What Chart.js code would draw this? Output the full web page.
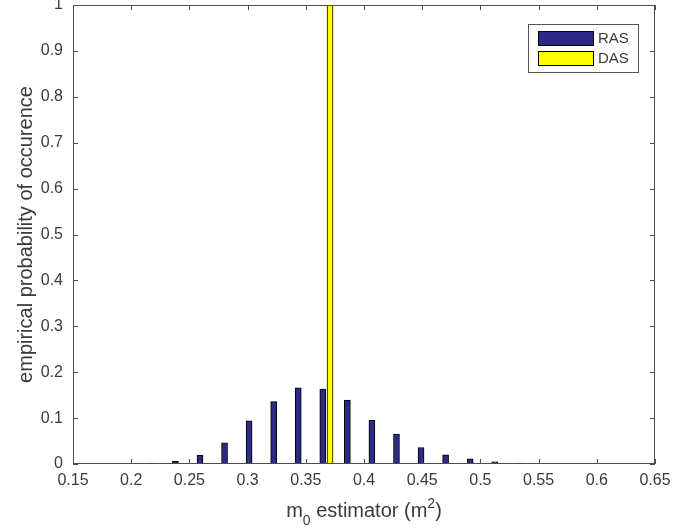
<!DOCTYPE html>
<html>
<head>
<meta charset="utf-8">
<script src="https://cdn.jsdelivr.net/npm/chart.js@4.4.1/dist/chart.umd.min.js"></script>
<style>
  html, body { margin: 0; padding: 0; background: #fff; }
  #wrap { width: 694px; height: 531px; }
</style>
</head>
<body>
<div id="wrap"><canvas id="hist"></canvas></div>
<script>
// bin centres and empirical probabilities
const rasBins = [0.2169, 0.2380, 0.2591, 0.2802, 0.3013, 0.3224, 0.3435, 0.3646, 0.3857, 0.4068,
                 0.4279, 0.4490, 0.4701, 0.4912, 0.5123, 0.5334, 0.5545, 0.5756, 0.5967];
const rasProb = [0.002, 0.006, 0.019, 0.046, 0.094, 0.136, 0.166, 0.163, 0.139, 0.095,
                 0.065, 0.036, 0.020, 0.011, 0.005, 0.002, 0.001, 0.001, 0.0005];
const dasBins = [0.3708];
const dasProb = [1];

const xTicks = [0.15, 0.2, 0.25, 0.3, 0.35, 0.4, 0.45, 0.5, 0.55, 0.6, 0.65];
const yTicks = [0, 0.1, 0.2, 0.3, 0.4, 0.5, 0.6, 0.7, 0.8, 0.9, 1];

const FONT = '"Liberation Sans", Arial, sans-serif';
const AXIS_COLOR = "#4d4d4d";
const TEXT_COLOR = "#3a3a3a";

// box around the axes + inward ticks on all four sides (matlab look)
const boxPlugin = {
  id: "boxPlugin",
  afterDatasetsDraw(chart) {
    const { ctx, chartArea: a, scales } = chart;
    ctx.save();
    ctx.strokeStyle = AXIS_COLOR;
    ctx.lineWidth = 1;
    ctx.strokeRect(a.left + 0.5, a.top + 0.5, a.width - 1, a.height - 1);
    const len = 5;
    ctx.beginPath();
    xTicks.forEach((v) => {
      const px = Math.round(scales.x.getPixelForValue(v)) + 0.5;
      ctx.moveTo(px, a.bottom); ctx.lineTo(px, a.bottom - len);
      ctx.moveTo(px, a.top); ctx.lineTo(px, a.top + len);
    });
    yTicks.forEach((v) => {
      const py = Math.round(scales.y.getPixelForValue(v)) + 0.5;
      ctx.moveTo(a.left, py); ctx.lineTo(a.left + len, py);
      ctx.moveTo(a.right, py); ctx.lineTo(a.right - len, py);
    });
    ctx.stroke();
    ctx.restore();
  },
  afterDraw(chart) {
    const { ctx, chartArea: a } = chart;
    ctx.save();
    // legend box inside the axes, top right
    const w = 110, h = 48;
    const lx = a.right - 17 - w, ly = a.top + 19;
    ctx.fillStyle = "#fff";
    ctx.fillRect(lx, ly, w, h);
    ctx.strokeStyle = "#555";
    ctx.lineWidth = 1;
    ctx.strokeRect(lx + 0.5, ly + 0.5, w, h);
    chart.data.datasets.forEach((ds, i) => {
      const sy = ly + 7 + i * 20;
      ctx.fillStyle = ds.backgroundColor;
      ctx.fillRect(lx + 10, sy, 55, 14);
      ctx.strokeStyle = "#000";
      ctx.strokeRect(lx + 10.5, sy + 0.5, 55, 14);
      ctx.fillStyle = TEXT_COLOR;
      ctx.font = "15px " + FONT;
      ctx.textBaseline = "middle";
      ctx.textAlign = "left";
      ctx.fillText(ds.label, lx + 70, sy + 8);
    });
    // x label with subscript / superscript
    const big = "20px " + FONT, small = "14px " + FONT;
    const parts = [
      { t: "m", f: big, dy: 0 },
      { t: "0", f: small, dy: 8 },
      { t: " estimator (m", f: big, dy: 0 },
      { t: "2", f: small, dy: -9 },
      { t: ")", f: big, dy: 0 },
    ];
    let total = 0;
    parts.forEach((p) => { ctx.font = p.f; total += ctx.measureText(p.t).width; });
    let x = (a.left + a.right) / 2 - total / 2;
    const base = 517;
    ctx.fillStyle = TEXT_COLOR;
    ctx.textAlign = "left";
    ctx.textBaseline = "alphabetic";
    parts.forEach((p) => {
      ctx.font = p.f;
      ctx.fillText(p.t, x, base + p.dy);
      x += ctx.measureText(p.t).width;
    });
    ctx.restore();
  },
};

const ctx = document.getElementById("hist").getContext("2d");

new Chart(ctx, {
  type: "bar",
  plugins: [boxPlugin],
  data: {
    datasets: [
      {
        label: "RAS",
        data: rasBins.map((b, i) => ({ x: b, y: rasProb[i] })),
        backgroundColor: "#2c2a85",
        borderColor: "#000",
        borderWidth: 1,
        borderSkipped: false,
        barThickness: 6,
        grouped: false,
      },
      {
        label: "DAS",
        data: dasBins.map((b, i) => ({ x: b, y: dasProb[i] })),
        backgroundColor: "#ffff00",
        borderColor: "#000",
        borderWidth: 1,
        borderSkipped: false,
        barThickness: 6,
        grouped: false,
      },
    ],
  },
  options: {
    responsive: true,
    maintainAspectRatio: false,
    animation: false,
    layout: { padding: { left: 0, right: 39, top: 5, bottom: 0 } },
    plugins: {
      legend: { display: false },
      tooltip: { enabled: false },
    },
    scales: {
      x: {
        type: "linear",
        min: 0.15,
        max: 0.65,
        offset: false,
        grid: { display: false, drawTicks: false },
        border: { display: false },
        afterBuildTicks: (s) => { s.ticks = xTicks.map((v) => ({ value: v })); },
        afterFit: (s) => { s.height = 67; s.paddingLeft = 0; s.paddingRight = 0; },
        ticks: {
          padding: 7,
          color: TEXT_COLOR,
          font: { family: FONT, size: 16 },
          maxRotation: 0,
          callback: (v) => String(+v.toFixed(2)),
        },
      },
      y: {
        min: 0,
        max: 1,
        grid: { display: false, drawTicks: false },
        border: { display: false },
        afterBuildTicks: (s) => { s.ticks = yTicks.map((v) => ({ value: v })); },
        afterFit: (s) => { s.width = 73; s.paddingTop = 0; s.paddingBottom = 0; },
        ticks: {
          padding: 10,
          color: TEXT_COLOR,
          font: { family: FONT, size: 16 },
          callback: (v) => String(+v.toFixed(1)),
        },
        title: {
          display: true,
          text: "empirical probability of occurence",
          color: TEXT_COLOR,
          font: { family: FONT, size: 20 },
          padding: { top: 14, bottom: 0 },
        },
      },
    },
  },
});
</script>
</body>
</html>
